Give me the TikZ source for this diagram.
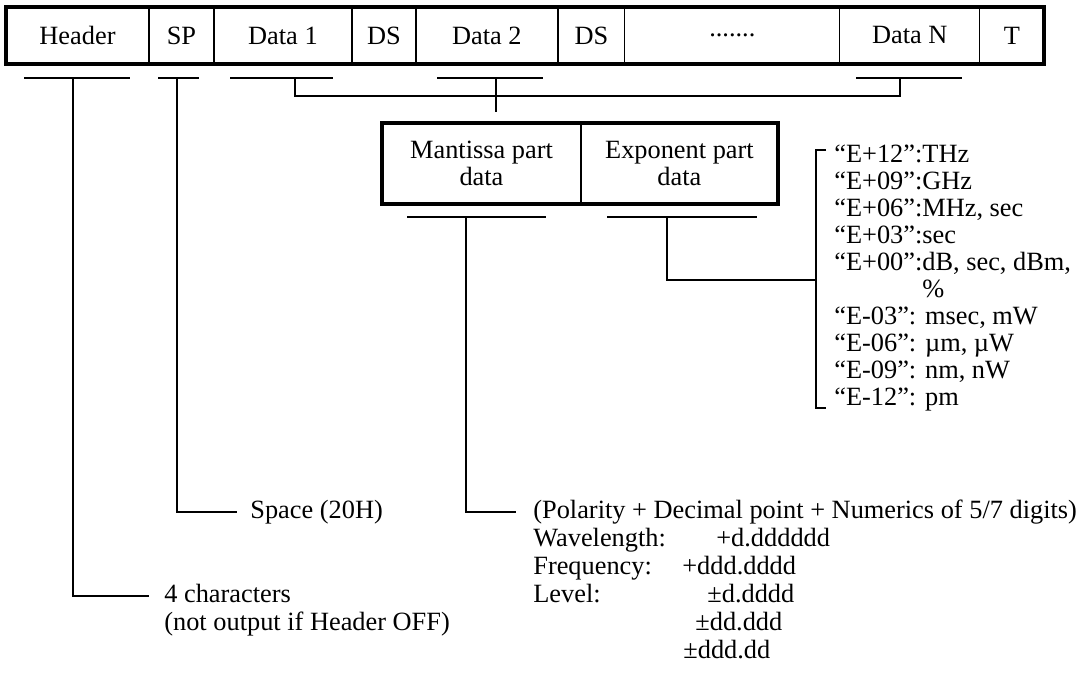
\documentclass[tikz,border=0pt]{standalone}
\usepackage{fontspec}
\setmainfont{Liberation Serif}
\usetikzlibrary{positioning}
\tikzset{
  every picture/.style={font=\fontsize{15}{15.36}\selectfont},
  fmt cell/.style={draw, line width=0.7pt, inner sep=0pt, outer sep=0pt,
    minimum height=1.14cm, anchor=north west},
  fmt frame/.style={draw, line width=2.4pt},
  fmt link/.style={draw, line width=0.7pt},
  fmt note/.style={anchor=west, inner sep=0pt, text height=10.5pt, text depth=3.5pt},
  fmt list/.style={anchor=north west, inner sep=0pt, align=left}
}

\begin{document}
\begin{tikzpicture}[x=0.02cm,y=-0.02cm]
  \useasboundingbox (0,0) rectangle (1086,679);
  \node[fmt cell, minimum width=2.86cm] (hdr) at (6,7) {Header};
  \node[fmt cell, minimum width=1.30cm, right=0pt of hdr] (sp) {SP};
  \node[fmt cell, minimum width=2.76cm, right=0pt of sp] (dat1) {Data 1};
  \node[fmt cell, minimum width=1.28cm, right=0pt of dat1] (ds1) {DS};
  \node[fmt cell, minimum width=2.84cm, right=0pt of ds1] (dat2) {Data 2};
  \node[fmt cell, minimum width=1.34cm, right=0pt of dat2] (ds2) {DS};
  \node[fmt cell, minimum width=4.30cm, right=0pt of ds2] (dots) {.......};
  \node[fmt cell, minimum width=2.80cm, right=0pt of dots] (datn) {Data N};
  \node[fmt cell, minimum width=1.28cm, right=0pt of datn] (term) {T};
  \draw[fmt frame] (hdr.north west) rectangle (term.south east);

  \draw[fmt link] (24,78) -- (130,78);
  \draw[fmt link] (158,78) -- (199,78);
  \draw[fmt link] (230,78) -- (333,78);
  \draw[fmt link] (437,78) -- (543,78);
  \draw[fmt link] (856,78) -- (962,78);
  \coordinate (hdrU) at (73,78);
  \coordinate (spU) at (177,78);
  \coordinate (dat1U) at (295,78);
  \coordinate (dat2U) at (496,78);
  \coordinate (datnU) at (900,78);
  \draw[fmt link] (dat1U) -- ++(0,18) -| (datnU);
  \draw[fmt link] (dat2U) -- ++(0,34);

  \node[fmt cell, minimum width=3.98cm, minimum height=1.62cm, align=center] (mant) at (382,123) {Mantissa part\\data};
  \node[fmt cell, minimum width=3.94cm, minimum height=1.62cm, align=center, right=0pt of mant] (expo) {Exponent part\\data};
  \draw[fmt frame] (mant.north west) rectangle (expo.south east);

  \draw[fmt link] (407,217) -- (546,217);
  \draw[fmt link] (607,217) -- (757,217);
  \coordinate (mantU) at (466,217);
  \coordinate (expoU) at (667,217);

  \node[fmt list] (units) at (834,145) {“E+12”:THz\\“E+09”:GHz\\“E+06”:MHz, sec\\“E+03”:sec\\“E+00”:dB, sec, dBm,\\\phantom{“E+00”:}\%\\“E-03”: msec, mW\\“E-06”: µm, µW\\“E-09”: nm, nW\\“E-12”: pm};
  \coordinate (brk) at (816,280);
  \draw[fmt link] (826,150) -- (816,150) -- (816,408) -- (826,408);
  \draw[fmt link] (expoU) |- (brk);

  \node[fmt note] (spc) at (250,512) {Space (20H)};
  \draw[fmt link, shorten >=0.26cm] (spU) |- (spc.west);

  \node[fmt note] (pol) at (533,512) {(Polarity + Decimal point + Numerics of 5/7 digits)};
  \node[fmt note] (wl) at (533,540) {Wavelength:};
  \node[fmt note] (fq) at (533,568) {Frequency:};
  \node[fmt note] (lv) at (533,596) {Level:};
  \node[fmt note] (wlv) at (716,540) {+d.dddddd};
  \node[fmt note] (fqv) at (682,568) {+ddd.dddd};
  \node[fmt note] (lva) at (707,596) {±d.dddd};
  \node[fmt note] (lvb) at (695,624) {±dd.ddd};
  \node[fmt note] (lvc) at (683,652) {±ddd.dd};
  \draw[fmt link, shorten >=0.34cm] (mantU) |- (pol.west);

  \node[fmt note] (chars) at (164,596) {4 characters};
  \node[fmt note] (hoff) at (164,624) {(not output if Header OFF)};
  \draw[fmt link, shorten >=0.3cm] (hdrU) |- (chars.west);
\end{tikzpicture}
\end{document}
